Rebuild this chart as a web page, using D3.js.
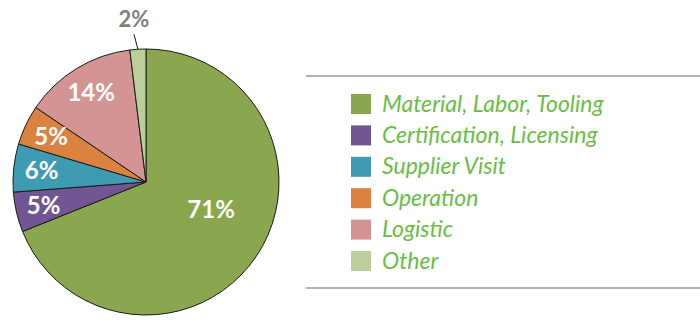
<!DOCTYPE html>
<html><head><meta charset="utf-8">
<script src="https://cdn.jsdelivr.net/npm/d3@7"></script>
<style>html,body{margin:0;padding:0;background:#fff;}svg{display:block;}</style>
</head><body>
<svg id="chart" width="700" height="327"></svg>
<script>
const categories = ["Material, Labor, Tooling","Certification, Licensing","Supplier Visit","Operation","Logistic","Other"];
const values = [71, 5, 6, 5, 14, 2];
const labels = ["71%","5%","6%","5%","14%","2%"];
const colors = ["#8aa64f","#715693","#3f9bb1","#dc8240","#d49494","#bccf9a"];

const svg = d3.select("#chart");
const cx = 146, cy = 182, R = 133;
const g = svg.append("g").attr("transform", `translate(${cx},${cy})`);

const pie = d3.pie().sort(null).value(d => d)(values);
const arc = d3.arc().innerRadius(0).outerRadius(R);
const labelArc = d3.arc().innerRadius(R * 0.79).outerRadius(R * 0.79);
const bigArc = d3.arc().innerRadius(R * 0.53).outerRadius(R * 0.53);

g.selectAll("path.slice").data(pie).enter().append("path")
  .attr("class","slice")
  .attr("d", arc)
  .attr("fill", (d,i) => colors[i])
  .attr("stroke", "#1a1a1a")
  .attr("stroke-width", 1);

// inside labels
g.selectAll("text.lbl").data(pie.slice(0,5)).enter().append("text")
  .attr("class","lbl")
  .attr("transform", (d,i) => {
    const a = i === 0 ? { ...d, startAngle: d.startAngle, endAngle: d.endAngle - 0.4 } : d;
    const c = (i === 0 ? bigArc : labelArc).centroid(a);
    return `translate(${c[0]},${c[1]})`;
  })
  .attr("text-anchor","middle")
  .attr("dy","0.35em")
  .attr("fill","#fff")
  .style("font-family","Lato, sans-serif")
  .style("font-weight","700")
  .style("font-size", (d,i) => i === 0 ? "24px" : "24px")
  .text((d,i) => labels[i]);

// outside label for "Other"
const o = pie[5];
const mid = (o.startAngle + o.endAngle) / 2;
const p0 = [Math.sin(mid) * R, -Math.cos(mid) * R];
const p1 = [Math.sin(mid) * (R + 15) - 3, -Math.cos(mid) * (R + 15)];
g.append("line")
  .attr("x1", p0[0]).attr("y1", p0[1])
  .attr("x2", p1[0]).attr("y2", p1[1])
  .attr("stroke", "#1a1a1a").attr("stroke-width", 1);
g.append("text")
  .attr("x", p1[0]).attr("y", p1[1] - 7)
  .attr("text-anchor","middle")
  .attr("fill","#808080")
  .style("font-family","Lato, sans-serif")
  .style("font-weight","700")
  .style("font-size","22px")
  .text(labels[5]);

// legend
const lx = 306, lx2 = 700, ly1 = 76, ly2 = 288;
svg.append("line").attr("x1", lx).attr("x2", lx2).attr("y1", ly1).attr("y2", ly1)
  .attr("stroke","#9a9a9a").attr("stroke-width",1.5);
svg.append("line").attr("x1", lx).attr("x2", lx2).attr("y1", ly2).attr("y2", ly2)
  .attr("stroke","#9a9a9a").attr("stroke-width",1.5);

const ys = d3.scalePoint().domain(categories).range([94, 251]);
const items = svg.selectAll("g.leg").data(categories).enter().append("g")
  .attr("class","leg")
  .attr("transform", d => `translate(351,${ys(d)})`);
items.append("rect").attr("width",20).attr("height",20)
  .attr("fill", (d,i) => colors[i]);
items.append("text").attr("x", 31).attr("y", 17.5)
  .attr("fill","#6abd45")
  .style("font-family","Lato, sans-serif")
  .style("font-style","italic")
  .style("font-size","23px")
  .text(d => d);
</script>
</body></html>
